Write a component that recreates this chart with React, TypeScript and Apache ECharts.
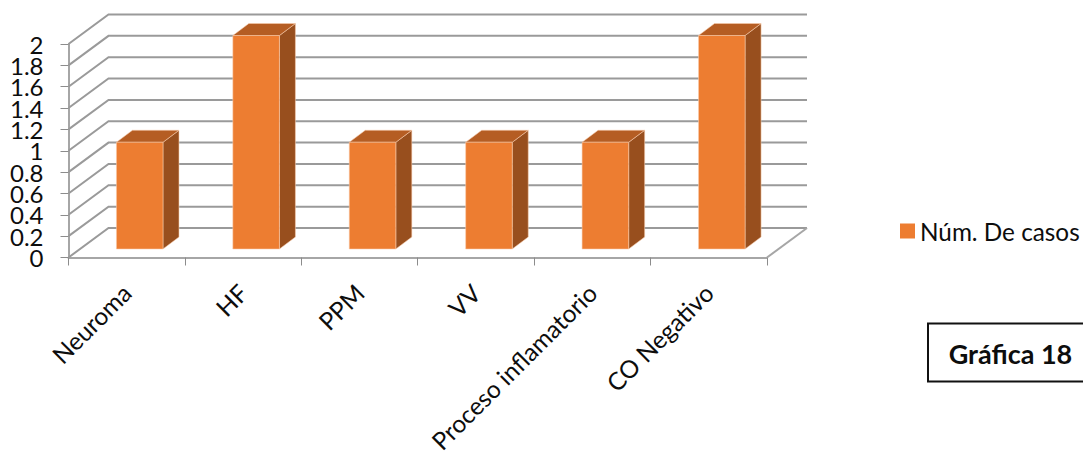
import React, { useEffect, useRef } from "react";
import * as echarts from "echarts";

const categories = ["Neuroma", "HF", "PPM", "VV", "Proceso inflamatorio", "CO Negativo"];
const casos = [1, 2, 1, 1, 1, 2];
const wallTicks = [0, 0.2, 0.4, 0.6, 0.8, 1, 1.2, 1.4, 1.6, 1.8, 2];

const seriesName = "Núm. De casos";
const boxTitle = "Gráfica 18";
const FONT = "Lato, 'Open Sans', sans-serif";

// Oblique projection of the box: how far the back wall sits from the front plane.
const WALL_DX = 40;
const WALL_DY = -29.5;
// Bars start part way into the floor and occupy a slice of the depth.
const BAR_FRONT_DX = 13;
const BAR_FRONT_DY = -8.5;
const BAR_DX = 16;
const BAR_DY = -12;
const BAR_WIDTH_RATIO = 0.4;

const GRID_STROKE = "#9a9a9a";
const FRONT = "#ED7D31";
const TOP = "#B55D23";
const SIDE = "#984F1E";

function renderWallLine(params: any, api: any) {
  const v = api.value(1);
  const cs = params.coordSys;
  const y = api.coord([0, v])[1];
  const left = cs.x;
  const right = cs.x + cs.width;
  const children: any[] = [
    {
      type: "polyline",
      shape: { points: [[left, y], [left + WALL_DX, y + WALL_DY], [right + WALL_DX, y + WALL_DY]] },
      style: { stroke: GRID_STROKE, lineWidth: 2, fill: "none" },
    },
    // The scale's figures are packed tighter than their line height, so they are
    // placed here rather than by the axis, which would drop every other one.
    {
      type: "text",
      x: left - 25,
      y,
      style: {
        text: String(v),
        fontFamily: FONT,
        fontSize: 24,
        fill: "#0d0d0d",
        align: "right",
        verticalAlign: "middle",
      },
    },
  ];
  if (v === 0) {
    children.push({
      type: "line",
      shape: { x1: right, y1: y, x2: right + WALL_DX, y2: y + WALL_DY },
      style: { stroke: "#a6a6a6", lineWidth: 2 },
    });
  }
  return { type: "group", children };
}

function renderBar(_params: any, api: any) {
  const idx = api.value(0);
  const val = api.value(1);
  const base = api.coord([idx, 0]);
  const head = api.coord([idx, val]);
  const w = api.size([1, 0])[0] * BAR_WIDTH_RATIO;
  const x0 = base[0] + BAR_FRONT_DX - w / 2;
  const x1 = x0 + w;
  const yBase = base[1] + BAR_FRONT_DY;
  const yHead = head[1] + BAR_FRONT_DY;
  const edge = { stroke: "rgba(250,205,175,0.55)", lineWidth: 1 };
  return {
    type: "group",
    children: [
      {
        type: "polygon",
        shape: { points: [[x1, yHead], [x1 + BAR_DX, yHead + BAR_DY], [x1 + BAR_DX, yBase + BAR_DY], [x1, yBase]] },
        style: { fill: SIDE, ...edge },
      },
      {
        type: "polygon",
        shape: { points: [[x0, yHead], [x0 + BAR_DX, yHead + BAR_DY], [x1 + BAR_DX, yHead + BAR_DY], [x1, yHead]] },
        style: { fill: TOP, ...edge },
      },
      {
        type: "rect",
        shape: { x: x0, y: yHead, width: w, height: yBase - yHead },
        style: { fill: FRONT, ...edge },
      },
    ],
  };
}

export default function App() {
  const ref = useRef<HTMLDivElement>(null);

  useEffect(() => {
    document.body.style.margin = "0";
    const chart = echarts.init(ref.current!, undefined, { renderer: "svg" });
    chart.setOption({
      animation: false,
      backgroundColor: "#ffffff",
      grid: { left: 68.5, top: 44, width: 698.5, height: 213.5, outerBoundsMode: "none", containLabel: false },
      legend: {
        show: true,
        left: 895,
        top: 214,
        icon: "rect",
        itemWidth: 15,
        itemHeight: 15,
        itemGap: 6,
        data: [seriesName],
        textStyle: { fontFamily: FONT, fontSize: 24.3, color: "#0d0d0d", padding: 0 },
      },
      xAxis: {
        type: "category",
        data: categories,
        boundaryGap: true,
        axisLine: { show: true, lineStyle: { color: "#a6a6a6", width: 2 } },
        axisTick: { show: true, length: 8, lineStyle: { color: "#8c8c8c", width: 1 } },
        axisLabel: {
          interval: 0,
          rotate: 45,
          margin: 31,
          fontFamily: FONT,
          fontSize: 24.5,
          color: "#0d0d0d",
          hideOverlap: false,
        },
      },
      yAxis: {
        type: "value",
        min: 0,
        max: 2,
        interval: 0.2,
        splitLine: { show: false },
        axisLine: { show: true, lineStyle: { color: "#a6a6a6", width: 2 } },
        axisTick: { show: true, length: 8, lineStyle: { color: "#8c8c8c", width: 1 } },
        axisLabel: { show: false },
      },
      series: [
        {
          type: "custom",
          name: "paredes",
          silent: true,
          clip: false,
          z: 1,
          renderItem: renderWallLine,
          data: wallTicks.map((v) => [0, v]),
          encode: { x: 0, y: 1 },
        },
        {
          type: "custom",
          name: seriesName,
          clip: false,
          z: 3,
          itemStyle: { color: FRONT },
          renderItem: renderBar,
          data: casos.map((v, i) => [i, v]),
          encode: { x: 0, y: 1 },
        },
      ],
      graphic: [
        {
          type: "rect",
          shape: { x: 928, y: 323.5, width: 160, height: 58 },
          style: { fill: "#ffffff", stroke: "#111111", lineWidth: 2 },
        },
        {
          type: "text",
          x: 1010.5,
          y: 353,
          style: {
            text: boxTitle,
            fontFamily: FONT,
            fontWeight: "bold",
            fontSize: 27,
            fill: "#0d0d0d",
            align: "center",
            verticalAlign: "middle",
          },
        },
      ],
    });
    return () => chart.dispose();
  }, []);

  return <div ref={ref} style={{ width: 1083, height: 452, overflow: "hidden" }} />;
}
